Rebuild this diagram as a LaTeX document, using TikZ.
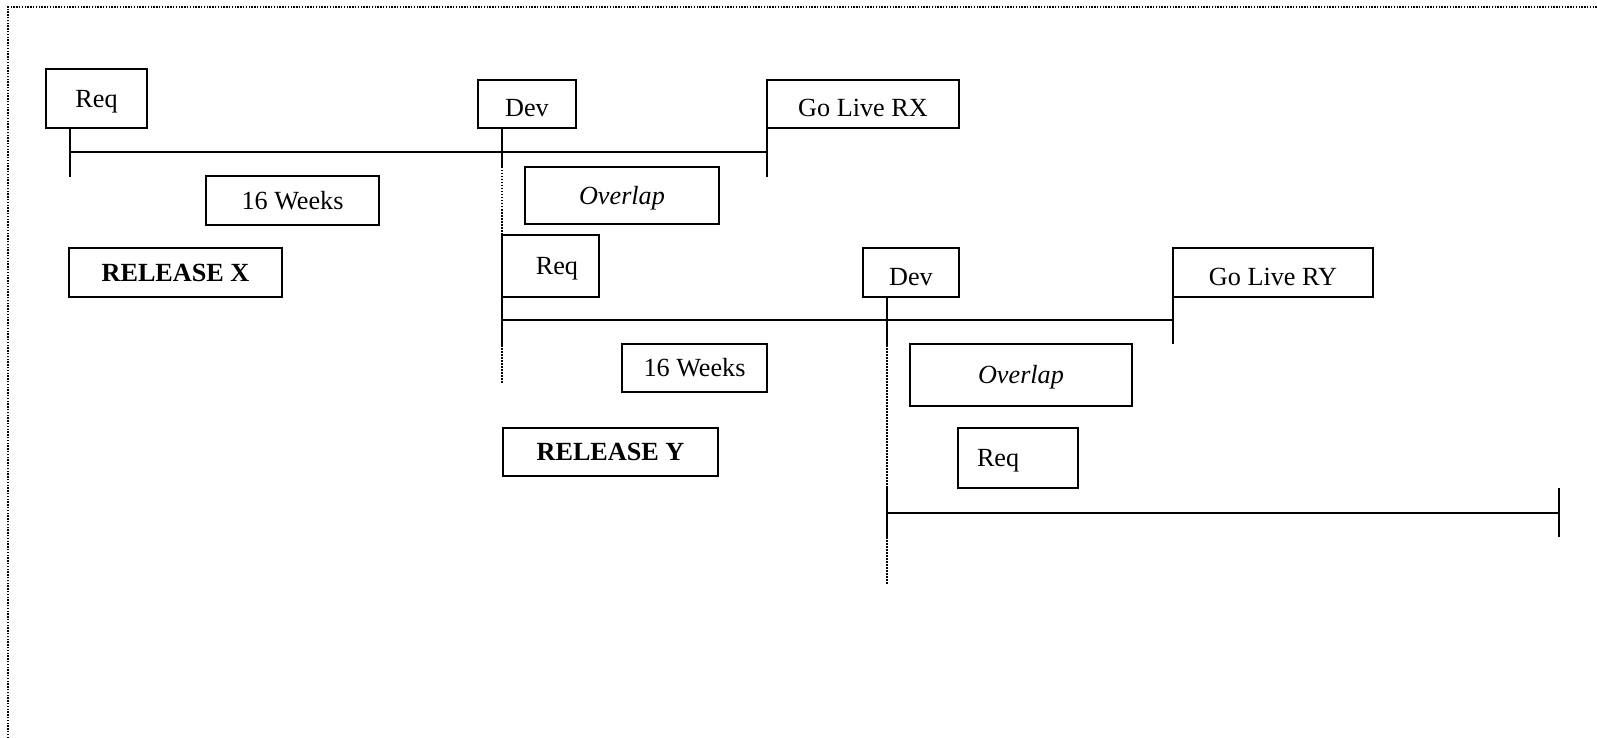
\documentclass[tikz,border=0pt]{standalone}
\usepackage{fontspec}
\setmainfont{Liberation Serif}
\begin{document}
\begin{tikzpicture}[x=0.5pt,y=-0.5pt,
  box/.style={draw,line width=0.95pt,inner sep=0pt,outer sep=0pt,anchor=north west,
    font=\fontsize{13.1pt}{15pt}\selectfont,text height=8.7pt,text depth=0pt},
  low/.style={text height=12.7pt},
  tl/.style={line width=0.95pt},
  guide/.style={line width=0.85pt,dash pattern=on 0.75pt off 0.75pt},
  frame/.style={line width=0.9pt,dash pattern=on 0.7pt off 0.7pt}]
\useasboundingbox (0,0) rectangle (1597,738);
% page frame
\draw[frame] (8,738) -- (8,7) -- (1597,7);

% ---- Release X ----
\node[box,minimum width=50.5pt,minimum height=29.5pt] (req1) at (46,69) {Req};
\node[box,low,minimum width=49pt,minimum height=24pt] (dev1) at (478,80) {Dev};
\node[box,low,minimum width=96pt,minimum height=24pt] (golx) at (767,80) {Go Live RX};
\node[box,minimum width=86.5pt,minimum height=24.5pt] (wk1) at (206,176) {16 Weeks};
\node[box,minimum width=97pt,minimum height=28.5pt] (ov1) at (525,167) {\itshape Overlap};
\node[box,minimum width=106.5pt,minimum height=24.5pt] (relx) at (69,248) {\bfseries RELEASE X};

% ---- Release Y ----
\node[box,minimum width=48.5pt,minimum height=31pt,text width=27.5pt,align=right] (req2) at (502,235) {Req};
\node[box,low,minimum width=48pt,minimum height=24.5pt] (dev2) at (863,248) {Dev};
\node[box,low,minimum width=100pt,minimum height=24.5pt] (goly) at (1173,248) {Go Live RY};
\node[box,minimum width=72.5pt,minimum height=24pt] (wk2) at (622,344) {16 Weeks};
\node[box,minimum width=111pt,minimum height=31pt] (ov2) at (910,344) {\itshape Overlap};
\node[box,minimum width=107.5pt,minimum height=24pt] (rely) at (503,428) {\bfseries RELEASE Y};

% ---- next release ----
\node[box,minimum width=60pt,minimum height=30pt,text width=41pt,align=left] (req3) at (958,428) {Req};

% timeline X
\draw[tl] ([xshift=12pt]req1.south west) -- ++(0,49);
\draw[tl] ([xshift=12pt]req1.south west) ++(0,24) coordinate (x0) -- (golx.south west |- x0);
\draw[tl] (golx.south west) -- ++(0,49);
\draw[tl] ([xshift=12pt]dev1.south west) -- ++(0,39) coordinate (dx);
\draw[guide] (dx) -- (req2.north west);

% timeline Y
\draw[tl] (req2.south west) -- ++(0,48) coordinate (ry);
\draw[guide] (ry) -- ++(0,38);
\draw[tl] (req2.south west) ++(0,23) coordinate (y0) -- (goly.south west |- y0);
\draw[tl] (goly.south west) -- ++(0,47);
\draw[tl] ([xshift=12pt]dev2.south west) -- ++(0,48) coordinate (dy);
\coordinate (z0) at (887,513);
\coordinate (z1) at (1559,513);
\draw[guide] (dy) -- (z0 |- req3.south);

% timeline of the following release
\draw[tl] (z0 |- req3.south) -- ++(0,49) coordinate (zb);
\draw[guide] (zb) -- ++(0,48);
\draw[tl] (z0) -- (z1);
\draw[tl] (z1 |- req3.south) -- ++(0,49);
\end{tikzpicture}
\end{document}
